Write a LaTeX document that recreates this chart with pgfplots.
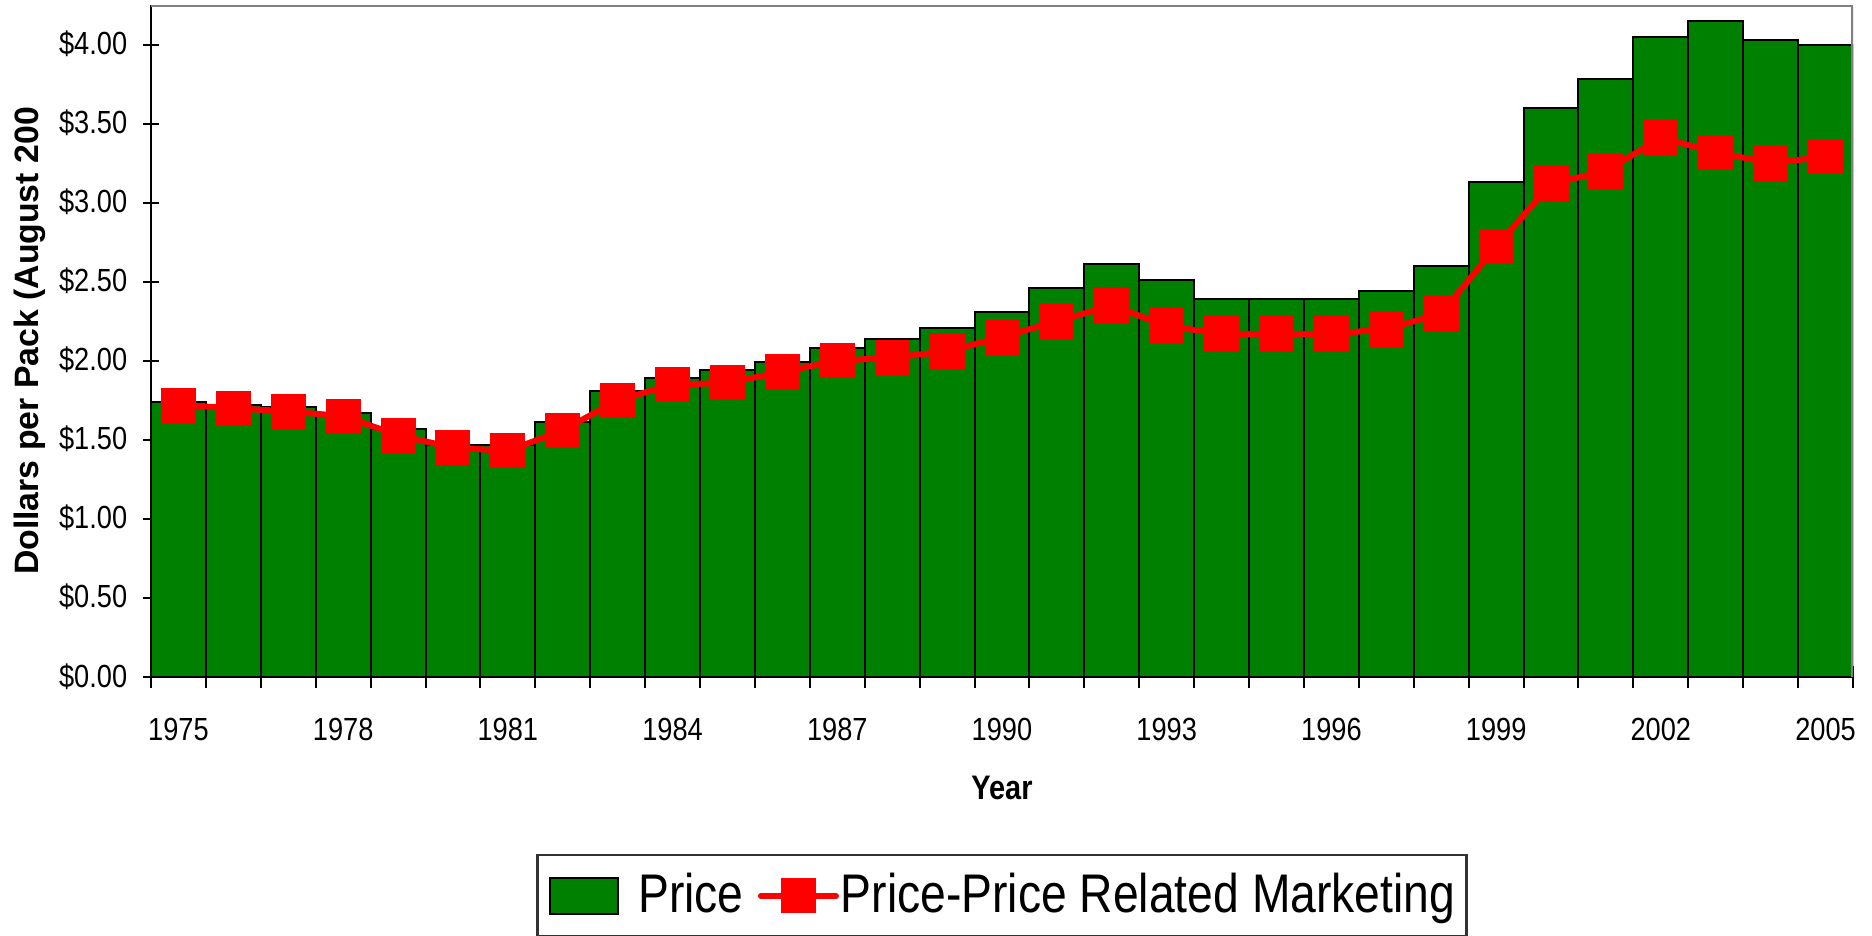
\documentclass[border=0pt]{standalone}
\usepackage{fontspec}
\setmainfont{Liberation Sans}[FakeStretch=0.85]
\newfontfamily\ylabfont{Liberation Sans}
\usepackage{pgfplots}
\usepackage{pgfplotstable}
\pgfplotsset{compat=1.18}
\definecolor{bargreen}{RGB}{0,128,0}
\definecolor{linered}{RGB}{255,0,0}

% year, price, price minus price-related marketing (dollars per pack)
\pgfplotstableread{
year price marketing
1975 1.74 1.72
1976 1.72 1.70
1977 1.71 1.68
1978 1.67 1.65
1979 1.57 1.53
1980 1.47 1.45
1981 1.47 1.43
1982 1.61 1.56
1983 1.81 1.75
1984 1.89 1.85
1985 1.94 1.86
1986 1.99 1.93
1987 2.08 2.00
1988 2.14 2.02
1989 2.21 2.06
1990 2.31 2.15
1991 2.46 2.25
1992 2.61 2.35
1993 2.51 2.22
1994 2.39 2.17
1995 2.39 2.17
1996 2.39 2.17
1997 2.44 2.20
1998 2.60 2.30
1999 3.13 2.72
2000 3.60 3.12
2001 3.78 3.20
2002 4.05 3.41
2003 4.15 3.32
2004 4.03 3.25
2005 4.00 3.29
}\pricedata

\pgfplotsset{
  redlinelegend/.style={
    legend image code/.code={\draw[mark repeat=2, mark phase=2, line cap=round, ##1] plot coordinates {(0pt,0pt) (9.375pt,0pt) (18.75pt,0pt)};}},
  greenboxlegend/.style={
    legend image code/.code={\draw[fill=bargreen, draw=black, line width=0.6pt] (0pt,-4.5pt) rectangle (17pt,4.5pt);}},
}

\begin{document}
\begin{tikzpicture}
\useasboundingbox (-37.75pt,-64.5pt) rectangle (430.25pt,169.25pt);
\begin{axis}[
  scale only axis,
  width=425.5pt, height=168pt,
  xmin=1974.5, xmax=2005.5,
  ymin=0, ymax=4.25,
  axis lines*=left,
  axis line style={-, black, line width=0.7pt},
  tick align=center,
  xtick={1975,1978,...,2005},
  xticklabels={1975,1978,1981,1984,1987,1990,1993,1996,1999,2002,2005},
  minor xtick={1974.5,1975.5,...,2005.5},
  major x tick style={draw=none},
  minor x tick style={black, line width=0.5pt},
  minor tick length=5.5pt,
  ytick={0,0.5,...,4},
  y tick style={black, line width=0.5pt},
  major tick length=4.25pt,
  yticklabel={\$\pgfmathprintnumber[fixed,fixed zerofill,precision=2,assume math mode=true]{\tick}},
  ticklabel style={font=\fontsize{8}{9.6}\selectfont},
  xticklabel style={anchor=base, yshift=-13.75pt},
  yticklabel style={anchor=base east, xshift=-0.3pt, yshift=-2.5pt},
  xlabel={\textbf{Year}},
  xlabel style={font=\fontsize{8.5}{10}\selectfont, at={(rel axis cs:0.5,0)}, anchor=base, yshift=-30.5pt},
  ylabel={\ylabfont\bfseries Dollars per Pack (August 200},
  ylabel style={font=\fontsize{8.45}{10}\selectfont, at={(rel axis cs:0,0.5)}, anchor=center, yshift=30.25pt},
  legend columns=2,
  legend style={
    at={(rel axis cs:0.5,0)}, anchor=north, yshift=-44.25pt,
    draw=black!80, line width=0.6pt,
    inner xsep=2.8pt, inner ysep=3pt,
    font=\fontsize{13.6}{16}\selectfont,
    nodes={inner xsep=0pt, inner ysep=1.5pt},
    /tikz/column 1/.style={column sep=4.75pt},
    /tikz/column 2/.style={column sep=3.6pt},
    /tikz/column 3/.style={column sep=0.5pt},
  },
]
\addplot[ybar, bar width=1, fill=bargreen, draw=black, line width=0.5pt, greenboxlegend]
  table[x=year, y=price] {\pricedata};
\addlegendentry{Price}
\addplot[linered, line width=1.5pt, mark=square*, mark size=4.25pt,
  mark options={solid, fill=linered, draw=linered, line width=0pt}, redlinelegend]
  table[x=year, y=marketing] {\pricedata};
\addlegendentry{Price-Price Related Marketing}
\draw[gray, line width=0.8pt] (rel axis cs:0,1) -- (rel axis cs:1,1) -- (rel axis cs:1,0);
\end{axis}
\end{tikzpicture}
\end{document}
